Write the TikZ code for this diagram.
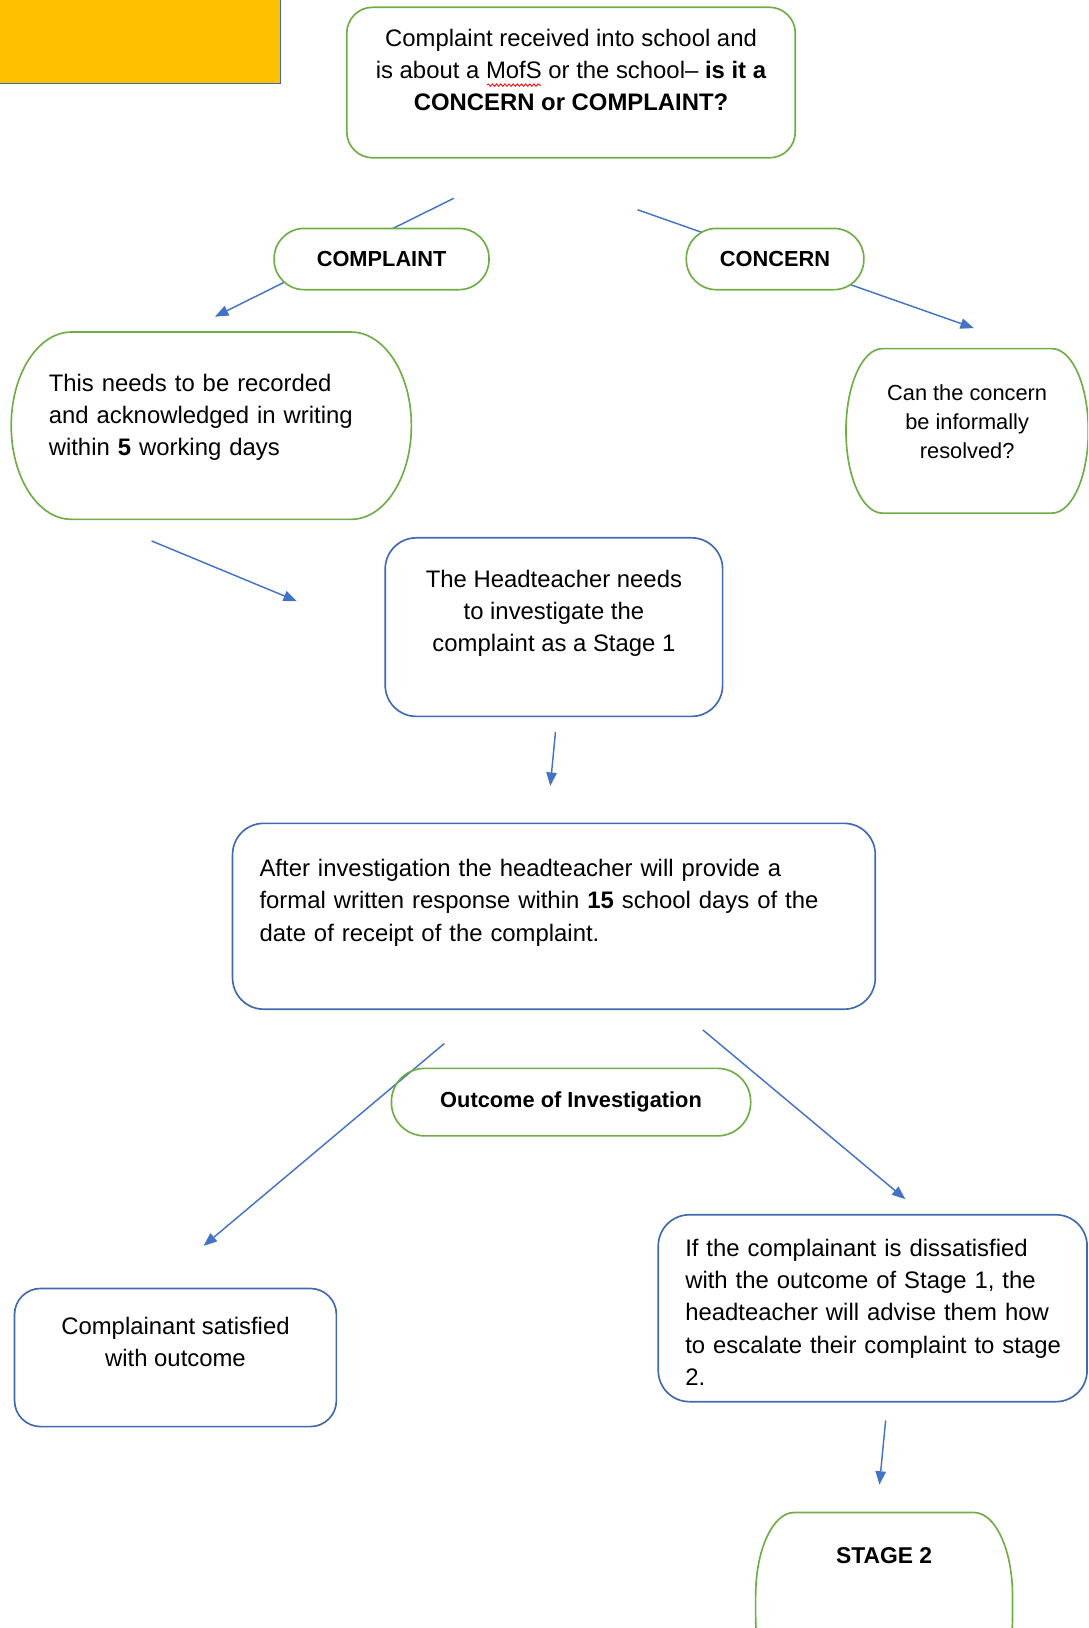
\documentclass[tikz,border=0pt]{standalone}
\usepackage{fontspec}
\setmainfont{Liberation Sans}
\usetikzlibrary{arrows.meta}
\usetikzlibrary{backgrounds}
\usetikzlibrary{decorations.pathmorphing}
\usetikzlibrary{positioning}
\definecolor{boxgreen}{HTML}{70AD47}
\definecolor{boxblue}{HTML}{4169B0}
\definecolor{flowblue}{HTML}{4472C4}
\definecolor{bannerorange}{HTML}{FFC000}
\newcommand{\softbox}[3]% node, xrad, yrad
{([xshift=#2pt]#1.north west) -- ([xshift=-#2pt]#1.north east)
 arc[start angle=90,end angle=0,x radius=#2pt,y radius=#3pt]
 -- ([yshift=#3pt]#1.south east)
 arc[start angle=0,end angle=-90,x radius=#2pt,y radius=#3pt]
 -- ([xshift=#2pt]#1.south west)
 arc[start angle=270,end angle=180,x radius=#2pt,y radius=#3pt]
 -- ([yshift=-#3pt]#1.north west)
 arc[start angle=180,end angle=90,x radius=#2pt,y radius=#3pt] -- cycle
}
\newcommand{\bodyfont}{\fontsize{23pt}{31pt}\selectfont}
\newcommand{\tagfont}{\fontsize{21pt}{28pt}\selectfont\bfseries}
\tikzset{
	greenbox/.style={draw=boxgreen, line width=1.6pt, fill=white, font=\bodyfont},
	bluebox/.style={draw=boxblue, line width=1.6pt, rounded corners=30pt, font=\bodyfont},
	softgreen/.style={draw=none, font=\bodyfont},
	softline/.style={draw=boxgreen, line width=1.6pt},
	tagbox/.style={draw=boxgreen, line width=1.6pt, fill=white, rounded corners=29pt, font=\tagfont},
	flow/.style={draw=flowblue, line width=1.4pt, -{Triangle[length=13pt,width=10pt]}}
}

\begin{document}
\begin{tikzpicture}[x=1pt,y=-1pt]
	\useasboundingbox (0,0) rectangle (1048,1568);
	\clip (0,0) rectangle (1048,1568);
	\node[draw=boxblue, line width=0.8pt, fill=bannerorange, minimum width=275pt, minimum height=85pt, inner sep=0pt] (banner) at (132.5,37.5) {};%banner
	\node[greenbox, rounded corners=25pt, minimum width=432pt, minimum height=145pt, align=center] (question) at (550,79.5)
		{Complaint received into school and\\is about a MofS or the school– \textbf{is it a}\\\textbf{CONCERN or COMPLAINT?}\\[-6pt]~};%0
	\draw[red, line width=0.8pt, decorate, decoration={snake, amplitude=1.2pt, segment length=4pt}] (469,82) -- (521,82);%spelling mark
	\node[tagbox, minimum width=207pt, minimum height=59pt] (complaint) at (367.5,249.5) {COMPLAINT};%1
	\node[tagbox, minimum width=171pt, minimum height=59pt] (concern) at (746.5,249.5) {CONCERN};%2
	\node[softgreen, minimum width=385pt, minimum height=180pt, text width=313pt, inner xsep=36pt, align=left] (recorded) at (203.5,410)
		{This needs to be recorded\\and acknowledged in writing\\within \textbf{5} working days\\[-10pt]~};%3
	\draw[softline] \softbox{recorded}{58}{90};
	\node[softgreen, font=\fontsize{21pt}{28pt}\selectfont, minimum width=233pt, minimum height=158pt, align=center] (informal) at (931.5,415)
		{Can the concern\\be informally\\resolved?\\[-10pt]~};%4
	\draw[softline] \softbox{informal}{35}{79};
	\node[bluebox, minimum width=325pt, minimum height=172pt, align=center] (stageone) at (533.5,604)
		{The Headteacher needs\\to investigate the\\complaint as a Stage 1\\~};%5
	\node[bluebox, minimum width=619pt, minimum height=179pt, text width=567pt, inner xsep=26pt, align=left] (response) at (533.5,882.5)
		{After investigation the headteacher will provide a\\formal written response within \textbf{15} school days of the\\date of receipt of the complaint.\\~};%6
	\node[tagbox, fill=none, rounded corners=32pt, minimum width=346pt, minimum height=65pt] (outcome) at (550,1061.5) {Outcome of Investigation};%7
	\node[bluebox, rounded corners=25pt, minimum width=310pt, minimum height=133pt, align=center] (satisfied) at (169,1307.5)
		{Complainant satisfied\\with outcome\\~};%8
	\node[bluebox, minimum width=413pt, minimum height=180pt, text width=361pt, inner xsep=26pt, align=left] (escalate) at (840.5,1260)
		{\rule{0pt}{24.5pt}If the complainant is dissatisfied\\with the outcome of Stage 1, the\\headteacher will advise them how\\\mbox{to escalate their complaint to stage}\\2.};%9
	\node[softgreen, minimum width=247pt, minimum height=180pt] (stagetwo) at (851.5,1547) {};%10
	\draw[softline] \softbox{stagetwo}{37}{80};
	\node[font=\fontsize{22pt}{28pt}\selectfont\bfseries, below=30pt of stagetwo.north] (stagetwo-txt) {STAGE 2};
	% loose arrow ends
	\coordinate (c1s) at (437,191); \coordinate (c1e) at (207,305);
	\coordinate (c2s) at (614,202); \coordinate (c2e) at (938,316);
	\coordinate (c3s) at (146,521); \coordinate (c3e) at (286,579);
	\coordinate (c4s) at (535,705); \coordinate (c4e) at (530,757);
	\coordinate (c5s) at (428,1005); \coordinate (c5e) at (196,1200);
	\coordinate (c6s) at (677,992); \coordinate (c6e) at (872,1155);
	\coordinate (c7s) at (853,1368); \coordinate (c7e) at (847,1430);
	\begin{pgfonlayer}{background}
	\draw[flow] (c1s) -- (c1e);
	\draw[flow] (c2s) -- (c2e);
	\draw[flow] (c3s) -- (c3e);
	\draw[flow] (c4s) -- (c4e);
	\draw[flow] (c5s) -- (c5e);
	\draw[flow] (c6s) -- (c6e);
	\draw[flow] (c7s) -- (c7e);
	\end{pgfonlayer}
\end{tikzpicture}
\end{document}
